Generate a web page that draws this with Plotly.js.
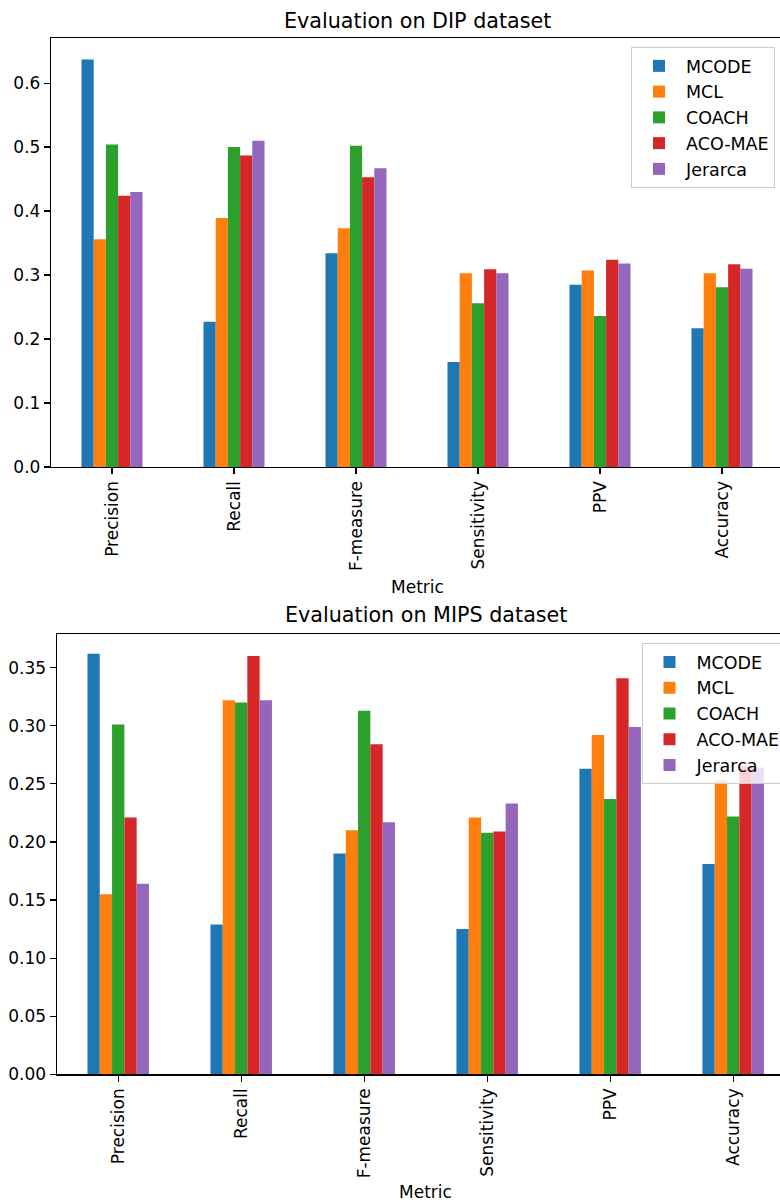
<!DOCTYPE html>
<html>
<head>
<meta charset="utf-8">
<script src="https://cdn.plot.ly/plotly-3.0.1.min.js"></script>
<style>html,body{margin:0;padding:0;background:#fff;}#chart{width:780px;height:1202px;}</style>
</head>
<body>
<div id="chart"></div>
<script>
const categories = ['Precision', 'Recall', 'F-measure', 'Sensitivity', 'PPV', 'Accuracy'];
const methods = ['MCODE', 'MCL', 'COACH', 'ACO-MAE', 'Jerarca'];

// DIP dataset
const dip_MCODE   = [0.637, 0.227, 0.334, 0.164, 0.285, 0.217];
const dip_MCL     = [0.356, 0.389, 0.373, 0.303, 0.307, 0.303];
const dip_COACH   = [0.504, 0.500, 0.502, 0.256, 0.236, 0.281];
const dip_ACOMAE  = [0.424, 0.487, 0.453, 0.309, 0.324, 0.317];
const dip_Jerarca = [0.430, 0.510, 0.467, 0.303, 0.318, 0.310];

// MIPS dataset
const mips_MCODE   = [0.362, 0.129, 0.190, 0.125, 0.263, 0.181];
const mips_MCL     = [0.155, 0.322, 0.210, 0.221, 0.292, 0.253];
const mips_COACH   = [0.301, 0.320, 0.313, 0.208, 0.237, 0.222];
const mips_ACOMAE  = [0.221, 0.360, 0.284, 0.209, 0.341, 0.265];
const mips_Jerarca = [0.164, 0.322, 0.217, 0.233, 0.299, 0.264];

const colors = ['#1f77b4', '#ff7f0e', '#2ca02c', '#d62728', '#9467bd'];
const dipSeries = [dip_MCODE, dip_MCL, dip_COACH, dip_ACOMAE, dip_Jerarca];
const mipsSeries = [mips_MCODE, mips_MCL, mips_COACH, mips_ACOMAE, mips_Jerarca];

const FONT = 'DejaVu Sans, sans-serif';
const traces = [];
methods.forEach((m, i) => {
  traces.push({type: 'bar', name: m, x: categories, y: dipSeries[i], xaxis: 'x', yaxis: 'y',
    marker: {color: colors[i], line: {width: 0}}, legend: 'legend'});
});
methods.forEach((m, i) => {
  traces.push({type: 'bar', name: m, x: categories, y: mipsSeries[i], xaxis: 'x2', yaxis: 'y2',
    marker: {color: colors[i], line: {width: 0}}, legend: 'legend2'});
});

const W = 780, H = 1202;
const axisCommon = {
  showline: true, mirror: true, linecolor: '#000', linewidth: 1.2,
  ticks: 'outside', ticklen: 6, tickwidth: 1.2, tickcolor: '#000',
  showgrid: false, zeroline: false, automargin: false,
  tickfont: {family: FONT, size: 17, color: '#000'}
};
const legendCommon = {
  bgcolor: 'rgba(255,255,255,0.8)', bordercolor: '#cccccc', borderwidth: 1,
  font: {family: FONT, size: 17.5, color: '#000'}, xanchor: 'left', yanchor: 'top',
  itemwidth: 44, traceorder: 'normal'
};

const layout = {
  width: W, height: H,
  margin: {l: 0, r: 0, t: 0, b: 0, autoexpand: false},
  paper_bgcolor: '#fff', plot_bgcolor: '#fff',
  barmode: 'group', bargap: 0.5, bargroupgap: 0,
  font: {family: FONT, size: 17, color: '#000'},
  xaxis: Object.assign({}, axisCommon, {
    domain: [51 / W, 1], anchor: 'y', type: 'category',
    range: [-0.5, -0.5 + (W - 51) / 122], tickangle: -90
  }),
  yaxis: Object.assign({}, axisCommon, {
    domain: [1 - 467 / H, 1 - 38 / H], anchor: 'x',
    range: [0, 0.6705], dtick: 0.1, tick0: 0, tickformat: '.1f'
  }),
  xaxis2: Object.assign({}, axisCommon, {
    domain: [56.7 / W, 1], anchor: 'y2', type: 'category',
    range: [-0.5, -0.5 + (W - 56.7) / 123], tickangle: -90
  }),
  yaxis2: Object.assign({}, axisCommon, {
    domain: [1 - 1074.3 / H, 1 - 634 / H], anchor: 'x2',
    range: [0, 0.379], dtick: 0.05, tick0: 0, tickformat: '.2f'
  }),
  legend: Object.assign({}, legendCommon, {x: 631 / W, y: 1 - 47 / H}),
  legend2: Object.assign({}, legendCommon, {x: 641.5 / W, y: 1 - 643 / H}),
  annotations: [
    {text: 'Evaluation on DIP dataset', xref: 'paper', yref: 'paper', x: 417 / W, y: 1 - 21 / H,
     xanchor: 'center', yanchor: 'middle', showarrow: false, font: {family: FONT, size: 20.7, color: '#000'}},
    {text: 'Evaluation on MIPS dataset', xref: 'paper', yref: 'paper', x: 425.7 / W, y: 1 - 615 / H,
     xanchor: 'center', yanchor: 'middle', showarrow: false, font: {family: FONT, size: 20.7, color: '#000'}},
    {text: 'Metric', xref: 'paper', yref: 'paper', x: 417 / W, y: 1 - 587 / H,
     xanchor: 'center', yanchor: 'middle', showarrow: false, font: {family: FONT, size: 17, color: '#000'}},
    {text: 'Metric', xref: 'paper', yref: 'paper', x: 425.7 / W, y: 1 - 1192 / H,
     xanchor: 'center', yanchor: 'middle', showarrow: false, font: {family: FONT, size: 17, color: '#000'}}
  ]
};

Plotly.newPlot('chart', traces, layout, {displayModeBar: false, staticPlot: true});
</script>
</body>
</html>
